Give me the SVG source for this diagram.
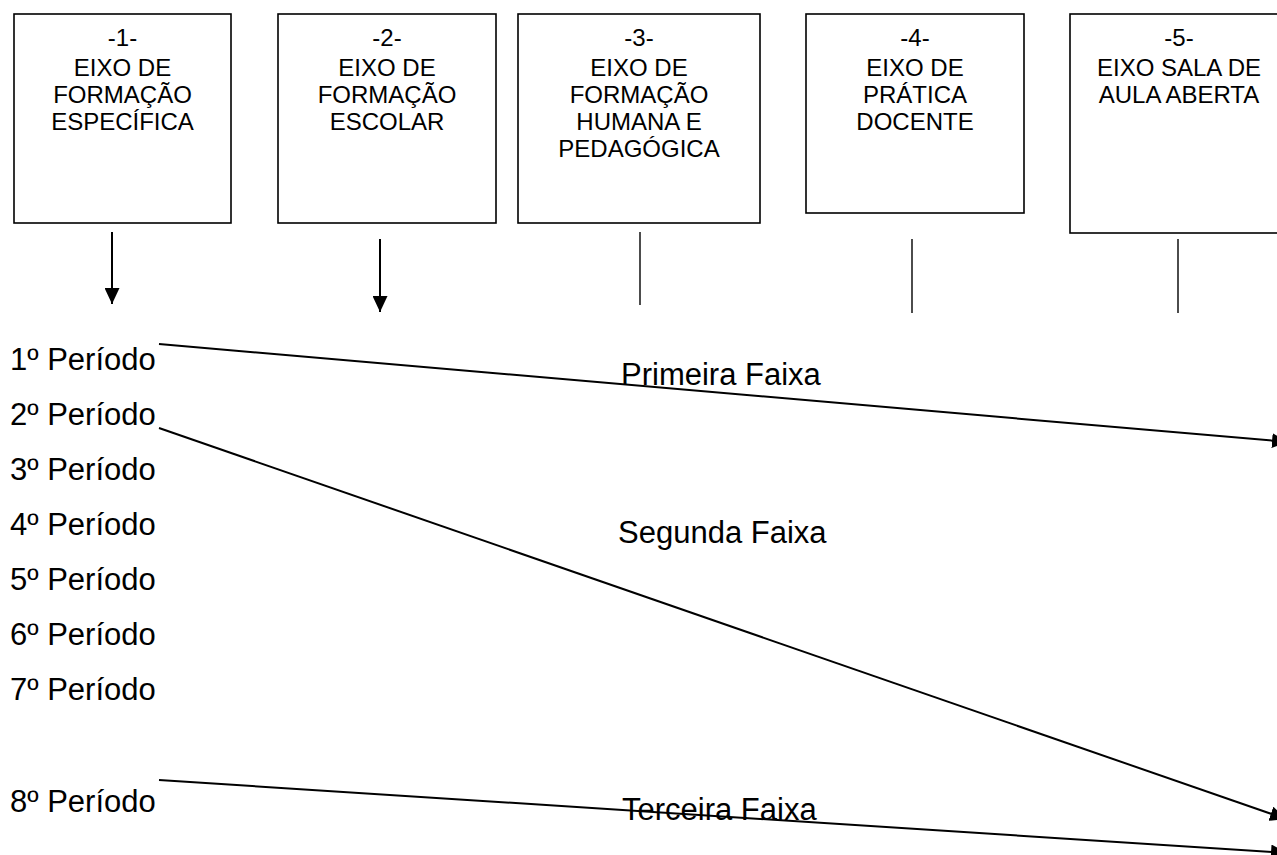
<svg xmlns="http://www.w3.org/2000/svg" width="1277" height="855" viewBox="0 0 1277 855">
<style>
.box{fill:#fff;stroke:#000;stroke-width:1.6}
.bt{font-family:"Liberation Sans",Arial,sans-serif;font-size:24px;text-anchor:middle;fill:#000}
.pt{font-family:"Liberation Sans",Arial,sans-serif;font-size:31px;fill:#000}
.ln{stroke:#000;stroke-width:2;fill:none}
.vl{stroke:#000;stroke-width:1.4;fill:none}
</style>
<defs>
<marker id="ah" markerUnits="userSpaceOnUse" viewBox="0 0 16 15" refX="16" refY="7.5" markerWidth="16" markerHeight="15" orient="auto">
<path d="M0,0 L16,7.5 L0,15 Z" fill="#000"/>
</marker>
</defs>
<rect width="1277" height="855" fill="#fff"/>
<g id="node1">
<rect class="box" x="14" y="14" width="217" height="209"/>
<text class="bt" x="122.5" y="46">-1-</text>
<text class="bt" x="122.5" y="76">EIXO DE</text>
<text class="bt" x="122.5" y="103">FORMAÇÃO</text>
<text class="bt" x="122.5" y="130">ESPECÍFICA</text>
</g>
<g id="node2">
<rect class="box" x="278" y="14" width="218" height="209"/>
<text class="bt" x="387" y="46">-2-</text>
<text class="bt" x="387" y="76">EIXO DE</text>
<text class="bt" x="387" y="103">FORMAÇÃO</text>
<text class="bt" x="387" y="130">ESCOLAR</text>
</g>
<g id="node3">
<rect class="box" x="518" y="14" width="242" height="209"/>
<text class="bt" x="639" y="46">-3-</text>
<text class="bt" x="639" y="76">EIXO DE</text>
<text class="bt" x="639" y="103">FORMAÇÃO</text>
<text class="bt" x="639" y="130">HUMANA E</text>
<text class="bt" x="639" y="157">PEDAGÓGICA</text>
</g>
<g id="node4">
<rect class="box" x="806" y="14" width="218" height="199"/>
<text class="bt" x="915" y="46">-4-</text>
<text class="bt" x="915" y="76">EIXO DE</text>
<text class="bt" x="915" y="103">PRÁTICA</text>
<text class="bt" x="915" y="130">DOCENTE</text>
</g>
<g id="node5">
<rect class="box" x="1070" y="14" width="230" height="219"/>
<text class="bt" x="1179" y="46">-5-</text>
<text class="bt" x="1179" y="76">EIXO SALA DE</text>
<text class="bt" x="1179" y="103">AULA ABERTA</text>
</g>
<g id="periods">
<text class="pt" x="10" y="370">1º Período</text>
<text class="pt" x="10" y="425">2º Período</text>
<text class="pt" x="10" y="480">3º Período</text>
<text class="pt" x="10" y="535">4º Período</text>
<text class="pt" x="10" y="590">5º Período</text>
<text class="pt" x="10" y="645">6º Período</text>
<text class="pt" x="10" y="700">7º Período</text>
<text class="pt" x="10" y="812">8º Período</text>
</g>
<g id="labels">
<text class="pt" x="621" y="385">Primeira Faixa</text>
<text class="pt" x="618" y="543">Segunda Faixa</text>
<text class="pt" x="622" y="820">Terceira Faixa</text>
</g>
<g id="connectors">
<line class="ln" x1="112" y1="232" x2="112" y2="304" marker-end="url(#ah)"/>
<line class="ln" x1="380" y1="239" x2="380" y2="312" marker-end="url(#ah)"/>
<line class="vl" x1="640" y1="232" x2="640" y2="305"/>
<line class="vl" x1="912" y1="239" x2="912" y2="313"/>
<line class="vl" x1="1178" y1="239" x2="1178" y2="313"/>
<line class="ln" x1="159" y1="344" x2="1288" y2="442" marker-end="url(#ah)"/>
<line class="ln" x1="159" y1="428" x2="1286" y2="819" marker-end="url(#ah)"/>
<line class="ln" x1="159" y1="780" x2="1287" y2="853" marker-end="url(#ah)"/>
</g>
</svg>
